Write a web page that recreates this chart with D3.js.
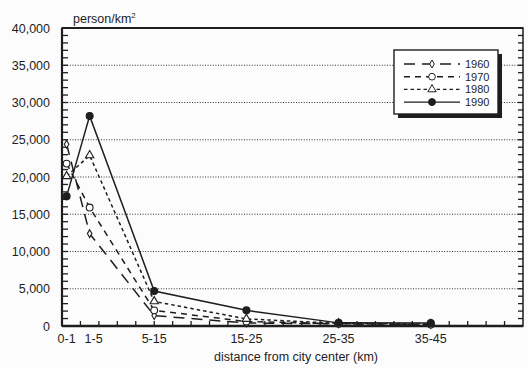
<!DOCTYPE html>
<html>
<head>
<meta charset="utf-8">
<script src="https://cdn.jsdelivr.net/npm/d3@7"></script>
<style>
  body { margin: 0; background: #fcfcfc; }
  svg { display: block; font-family: "Liberation Sans", Arial, sans-serif; }
</style>
</head>
<body>
<div id="chart"></div>
<script>
// distance bands (km) and their mid-points used for placement
const bands = ['0-1', '1-5', '5-15', '15-25', '25-35', '35-45'];
const bandMid = [0.5, 3, 10, 20, 30, 40];

const years = ['1960', '1970', '1980', '1990'];
const d1960 = [24400, 12400, 1400, 400, 300, 200];
const d1970 = [21800, 15900, 2100, 600, 300, 200];
const d1980 = [20100, 22900, 3300, 950, 350, 250];
const d1990 = [17400, 28200, 4700, 2100, 420, 400];

const yTicks = [0, 5000, 10000, 15000, 20000, 25000, 30000, 35000, 40000];

const W = 528, H = 368;
const M = { left: 62, right: 5, top: 28, bottom: 42 };
const INK = '#1e1e1e';

const svg = d3.select('#chart').append('svg')
  .attr('width', W).attr('height', H);

const x = d3.scaleLinear().domain([0, 50]).range([M.left, W - M.right]);
const y = d3.scaleLinear().domain([0, 40000]).range([H - M.bottom, M.top]);

// dotted grid lines
svg.append('g')
  .selectAll('line')
  .data(yTicks.filter((t) => t > 0 && t < 40000))
  .join('line')
  .attr('x1', x(0)).attr('x2', x(50))
  .attr('y1', (d) => y(d)).attr('y2', (d) => y(d))
  .attr('stroke', '#333')
  .attr('stroke-width', 1)
  .attr('stroke-dasharray', '1,1.6');

// minor ticks on left and right, inward
const minor = d3.range(0, 40001, 1000);
svg.append('g').selectAll('line').data(minor).join('line')
  .attr('x1', x(0)).attr('x2', x(0) + 6)
  .attr('y1', (d) => y(d)).attr('y2', (d) => y(d))
  .attr('stroke', INK).attr('stroke-width', 1.3);
svg.append('g').selectAll('line').data(minor).join('line')
  .attr('x1', x(50)).attr('x2', x(50) - 5)
  .attr('y1', (d) => y(d)).attr('y2', (d) => y(d))
  .attr('stroke', INK).attr('stroke-width', 1.3);

// x ticks every 2 km, pointing up
svg.append('g').selectAll('line').data(d3.range(2, 50, 2)).join('line')
  .attr('x1', (d) => x(d)).attr('x2', (d) => x(d))
  .attr('y1', y(0)).attr('y2', y(0) - 5)
  .attr('stroke', INK).attr('stroke-width', 1.3);

// frame
svg.append('rect')
  .attr('x', x(0)).attr('y', y(40000))
  .attr('width', x(50) - x(0)).attr('height', y(0) - y(40000))
  .attr('fill', 'none').attr('stroke', INK).attr('stroke-width', 1.5);
svg.append('line')
  .attr('x1', x(0)).attr('x2', x(50)).attr('y1', y(40000)).attr('y2', y(40000))
  .attr('stroke', INK).attr('stroke-width', 2);
svg.append('line')
  .attr('x1', x(0)).attr('x2', x(50)).attr('y1', y(0)).attr('y2', y(0))
  .attr('stroke', INK).attr('stroke-width', 2.4);
svg.append('line')
  .attr('x1', x(0)).attr('x2', x(0)).attr('y1', y(0)).attr('y2', y(40000))
  .attr('stroke', INK).attr('stroke-width', 2.2);

// y axis labels
svg.append('g')
  .attr('transform', `translate(${x(0)},0)`)
  .call(d3.axisLeft(y).tickValues(yTicks).tickSize(0).tickPadding(12).tickFormat(d3.format(',')))
  .call((g) => g.select('.domain').remove())
  .call((g) => g.selectAll('text').attr('font-size', 12.5).attr('fill', INK)
    .attr('font-family', '"Liberation Sans", Arial, sans-serif'));

// x axis labels at band mid-points
const xBand = d3.scaleOrdinal().domain(bands).range(bandMid.map((m) => x(m)));
svg.append('g')
  .selectAll('text')
  .data(bands)
  .join('text')
  .attr('x', (d, i) => (i === 1 ? x(bandMid[i]) + 4 : xBand(d)))
  .attr('y', 343)
  .attr('text-anchor', 'middle')
  .attr('font-size', 12.5)
  .attr('fill', INK)
  .text((d) => d);

svg.append('text')
  .attr('x', 296).attr('y', 361)
  .attr('text-anchor', 'middle')
  .attr('font-size', 12.5)
  .attr('fill', INK)
  .text('distance from city center (km)');

const unit = svg.append('text')
  .attr('x', 73).attr('y', 23)
  .attr('font-size', 12.5)
  .attr('fill', INK);
unit.append('tspan').text('person/km');
unit.append('tspan').attr('dy', -5).attr('font-size', 8).text('2');

// series
const series = [
  { year: years[0], values: d1960, dash: '11,7', symbol: d3.symbolDiamond, size: 18, fill: '#fff' },
  { year: years[1], values: d1970, dash: '6,5', symbol: d3.symbolCircle, size: 36, fill: '#fff' },
  { year: years[2], values: d1980, dash: '3.5,3', symbol: d3.symbolTriangle, size: 30, fill: '#fff' },
  { year: years[3], values: d1990, dash: null, symbol: d3.symbolCircle, size: 38, fill: INK },
];

const line = d3.line().x((d, i) => x(bandMid[i])).y((d) => y(d));

for (const s of series) {
  svg.append('path')
    .datum(s.values)
    .attr('fill', 'none')
    .attr('stroke', INK)
    .attr('stroke-width', 1.5)
    .attr('stroke-dasharray', s.dash)
    .attr('d', line);
}
for (const s of series) {
  svg.append('g')
    .selectAll('path')
    .data(s.values)
    .join('path')
    .attr('transform', (d, i) => `translate(${x(bandMid[i])},${y(d)})`)
    .attr('d', d3.symbol().type(s.symbol).size(s.size))
    .attr('fill', s.fill)
    .attr('stroke', INK)
    .attr('stroke-width', 1.1);
}

// legend box with drop shadow
const lg = svg.append('g').attr('transform', 'translate(394,50)');
lg.append('rect').attr('x', 4).attr('y', 4).attr('width', 104).attr('height', 64).attr('fill', INK);
lg.append('rect').attr('x', 0).attr('y', 0).attr('width', 104).attr('height', 64)
  .attr('fill', '#fff').attr('stroke', INK).attr('stroke-width', 1.4);

series.forEach((s, i) => {
  const row = lg.append('g').attr('transform', `translate(0,${14 + i * 12.7})`);
  row.append('line')
    .attr('x1', 10).attr('x2', 66)
    .attr('stroke', INK).attr('stroke-width', 1.4)
    .attr('stroke-dasharray', s.dash);
  row.append('path')
    .attr('transform', 'translate(38,0)')
    .attr('d', d3.symbol().type(s.symbol).size(s.size))
    .attr('fill', s.fill).attr('stroke', INK).attr('stroke-width', 1);
  row.append('text')
    .attr('x', 71).attr('y', 4)
    .attr('font-size', 11)
    .attr('fill', INK)
    .text(s.year);
});
</script>
</body>
</html>
